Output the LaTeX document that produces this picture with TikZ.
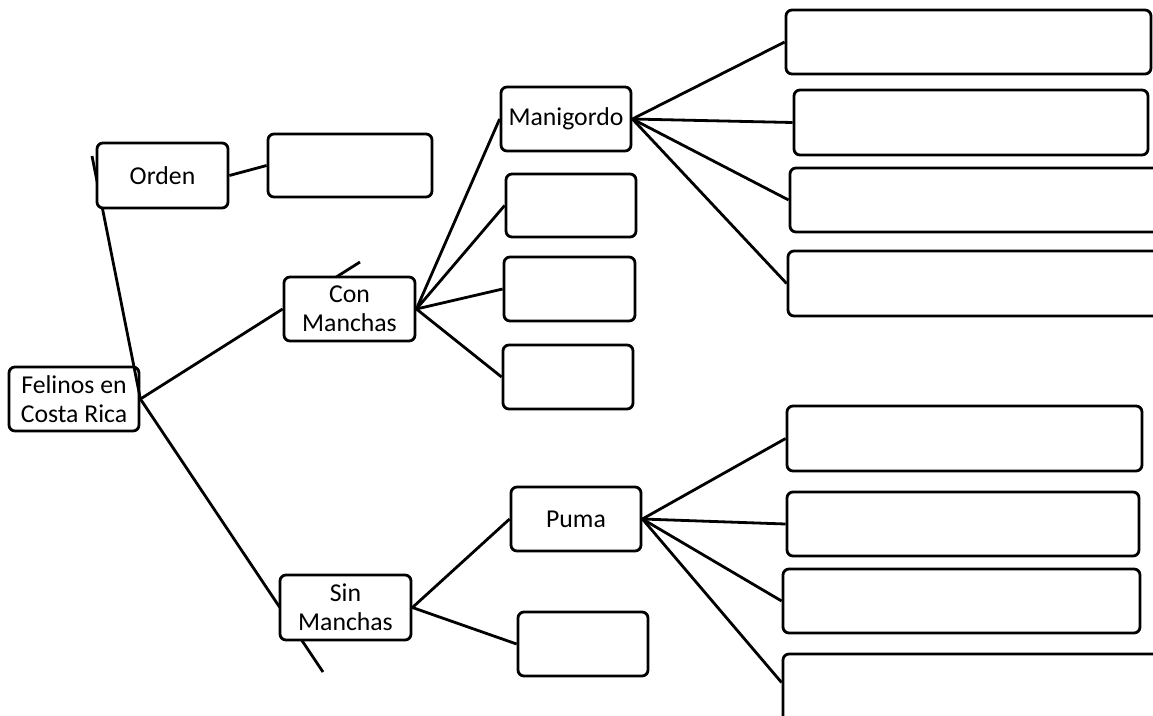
\documentclass[tikz,border=0pt]{standalone}
\usepackage{fontspec}
\setmainfont{Carlito}
\usetikzlibrary{backgrounds,calc}
\begin{document}
\begin{tikzpicture}[x=0.75pt,y=-0.75pt,
  box/.style={draw, line width=2.1pt, rounded corners=4.5pt, fill=white, inner sep=0pt, align=center,
    font=\fontsize{19.3pt}{21.5pt}\selectfont},
  sz/.style 2 args={minimum width=#1*0.75pt, minimum height=#2*0.75pt},
  conn/.style={line width=2.1pt}]
\useasboundingbox (0,0) rectangle (1153,715);
\clip (0,0) rectangle (1153,715);
% nodes
\node[box, fill=none, sz={130}{64}] (fel) at (74,399) {Felinos en\\Costa Rica};
\node[box, sz={131}{65}] (ord) at (162.5,175.5) {Orden};
\node[box, sz={164}{63}] (ordb) at (350,165.5) {};
\node[box, sz={131}{64}] (con) at (349.5,309) {Con\\Manchas};
\node[box, sz={131}{65}] (sin) at (345.5,607.5) {Sin\\Manchas};
\node[box, sz={130}{64}] (mani) at (566,119) {Manigordo};
\node[box, sz={130}{63}] (m1) at (571,205.5) {};
\node[box, sz={131}{64}] (m2) at (569.5,289) {};
\node[box, sz={130}{64}] (m3) at (568,377) {};
\node[box, sz={365}{64}] (ra) at (968.5,42) {};
\node[box, sz={354}{65}] (rb) at (971,122.5) {};
\node[box, sz={385}{64}] (rc) at (982.5,200) {};
\node[box, sz={387}{65}] (rd) at (981.5,283.5) {};
\node[box, sz={130}{64}] (puma) at (576,519) {Puma};
\node[box, sz={130}{64}] (sb) at (583,644) {};
\node[box, sz={355}{65}] (re) at (964.5,438.5) {};
\node[box, sz={352}{64}] (rf) at (963,524) {};
\node[box, sz={357}{64}] (rg) at (961.5,601) {};
\node[box, sz={392}{86}] (rh) at (979,697) {};
\coordinate (topend) at (92,156);
\coordinate (botend) at (323,672);
\coordinate (hid) at (330,281);
\coordinate (stub) at (360,262);
% connectors
\begin{scope}[on background layer]
\draw[conn] (topend) -- (fel.east);
\draw[conn] (fel.east) -- (botend);
\draw[conn] (fel.east) -- (con.west);
\draw[conn] (ord.east) -- (ordb.west);
\draw[conn] (hid) -- (stub);
\foreach \t in {mani,m1,m2,m3} \draw[conn] (con.east) -- (\t.west);
\foreach \t in {ra,rb,rc,rd} \draw[conn] (mani.east) -- (\t.west);
\foreach \t in {puma,sb} \draw[conn] (sin.east) -- (\t.west);
\foreach \t in {re,rf,rg} \draw[conn] (puma.east) -- (\t.west);
\draw[conn] (puma.east) -- ($(rh.north west)!0.337!(rh.south west)$);
\end{scope}
\end{tikzpicture}
\end{document}
